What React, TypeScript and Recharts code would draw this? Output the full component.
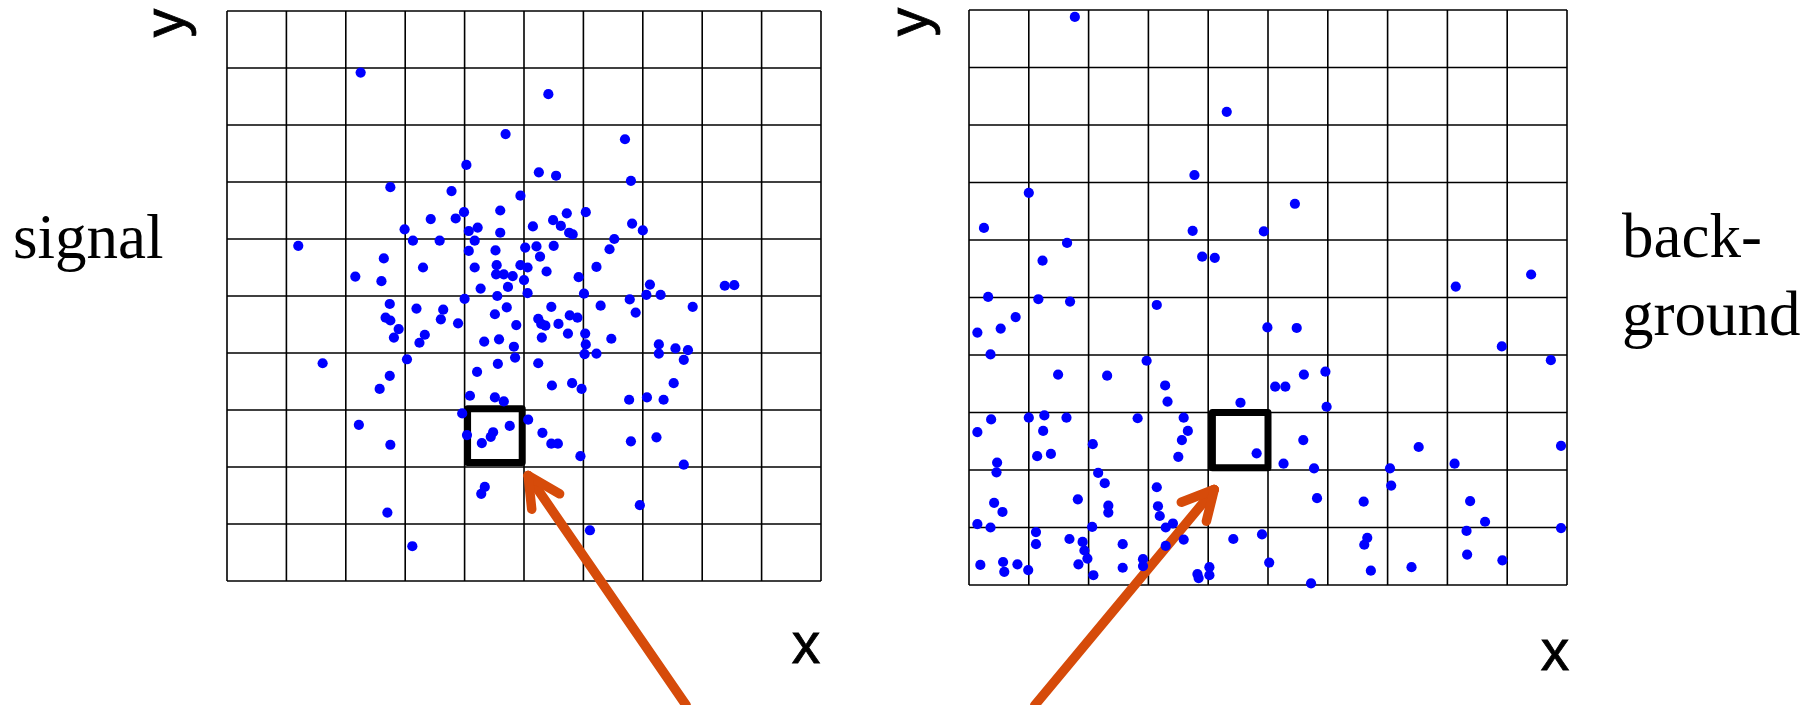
import React from "react";
import {
  CartesianGrid,
  ReferenceArea,
  ReferenceLine,
  Scatter,
  ScatterChart,
  XAxis,
  YAxis,
} from "recharts";

type Pt = [number, number];

// grid is 10 x 10 cells, one unit per cell
const gridTicks = [0, 1, 2, 3, 4, 5, 6, 7, 8, 9, 10];

const signalPoints: Pt[] = [
  [2.25, 8.92], [4.69, 7.84], [4.03, 7.3], [2.75, 6.91], [3.78, 6.84], [4.94, 6.76],
  [3.99, 6.47], [4.6, 6.5], [3.43, 6.35], [3.85, 6.36], [2.99, 6.17], [4.07, 6.14],
  [4.22, 6.2], [4.6, 6.11], [5.15, 6.22], [3.13, 5.97], [3.58, 5.97], [4.17, 5.97],
  [1.2, 5.88], [4.07, 5.79], [4.52, 5.8], [5.02, 5.85], [2.64, 5.66], [3.3, 5.5],
  [4.17, 5.5], [4.54, 5.54], [4.94, 5.54], [2.16, 5.34], [2.6, 5.26], [4.53, 5.38],
  [4.66, 5.38], [4.81, 5.35], [5.0, 5.28], [4.73, 5.16], [4.27, 5.13], [4.55, 5.0],
  [5.06, 5.05], [4.0, 4.95], [2.74, 4.86],
  [3.19, 4.78], [3.64, 4.76], [4.71, 4.8], [4.51, 4.68], [2.67, 4.62], [2.75, 4.57],
  [3.6, 4.59], [3.89, 4.52], [4.87, 4.49], [2.89, 4.42], [2.81, 4.27], [3.33, 4.32],
  [3.24, 4.18], [4.33, 4.2], [4.58, 4.24], [4.83, 4.11], [4.85, 3.92], [3.03, 3.89],
  [1.61, 3.82], [4.56, 3.81], [4.21, 3.67], [2.74, 3.6], [2.57, 3.37], [4.09, 3.25],
  [4.51, 3.22], [4.66, 3.15], [3.96, 2.94], [5.07, 2.83], [2.22, 2.74], [4.04, 2.56],
  [4.76, 2.72], [4.48, 2.61], [4.44, 2.53], [4.29, 2.42], [2.75, 2.39], [4.34, 1.65],
  [4.28, 1.53], [2.7, 1.2], [3.12, 0.61],
  [5.41, 8.54], [6.7, 7.75], [5.25, 7.17], [5.54, 7.11], [6.8, 7.02], [5.72, 6.45],
  [6.04, 6.47], [5.49, 6.33], [5.62, 6.23], [6.82, 6.27], [7.0, 6.15], [5.76, 6.11],
  [5.82, 6.08], [6.52, 6.0], [5.21, 5.87], [5.5, 5.88], [6.44, 5.82], [5.27, 5.69],
  [5.06, 5.5], [5.38, 5.43], [6.22, 5.51], [5.92, 5.33], [7.12, 5.2], [8.38, 5.18],
  [8.54, 5.19], [6.01, 5.04], [7.06, 5.02], [7.3, 5.02], [6.78, 4.94],
  [5.46, 4.81], [6.29, 4.83], [6.88, 4.71], [7.84, 4.81], [5.24, 4.6], [5.29, 4.51],
  [5.36, 4.48], [5.58, 4.51], [5.77, 4.66], [5.9, 4.62], [5.3, 4.27], [5.74, 4.34],
  [6.03, 4.34], [6.47, 4.25], [6.04, 4.15], [7.27, 4.15], [7.55, 4.08], [7.76, 4.05],
  [7.27, 3.99], [6.02, 3.98], [6.22, 3.99], [7.69, 3.88], [5.24, 3.82], [5.47, 3.43],
  [5.81, 3.47], [5.97, 3.37], [7.52, 3.47], [6.77, 3.18], [7.07, 3.22], [7.35, 3.18],
  [5.31, 2.6], [5.46, 2.41], [5.57, 2.41], [5.95, 2.19], [6.8, 2.45], [7.23, 2.52],
  [7.69, 2.04], [6.95, 1.33], [6.11, 0.89],
];

const backgroundPoints: Pt[] = [
  [1.77, 9.88], [4.31, 8.23], [3.77, 7.13], [1.0, 6.82], [0.25, 6.21], [3.74, 6.16],
  [4.93, 6.15], [1.64, 5.95], [1.23, 5.64], [3.9, 5.71], [4.11, 5.69], [0.32, 5.01],
  [1.16, 4.97], [1.69, 4.93], [3.14, 4.87],
  [5.45, 6.63], [8.14, 5.19], [9.4, 5.4],
  [0.78, 4.66], [0.53, 4.46], [0.14, 4.39], [4.99, 4.48], [0.36, 4.01], [2.97, 3.9],
  [1.49, 3.66], [2.31, 3.64], [3.28, 3.47], [3.32, 3.19], [4.54, 3.17], [0.37, 2.88],
  [1.0, 2.91], [1.26, 2.95], [1.63, 2.91], [2.82, 2.9], [3.59, 2.91], [0.14, 2.66],
  [1.24, 2.68], [3.66, 2.68], [3.56, 2.52], [2.07, 2.45], [1.14, 2.24], [1.37, 2.28],
  [3.5, 2.23], [4.81, 2.29], [0.47, 2.13], [0.46, 1.96], [2.16, 1.95], [2.27, 1.77],
  [3.14, 1.7], [0.42, 1.43], [0.56, 1.27], [1.82, 1.49], [2.33, 1.38], [2.33, 1.26],
  [3.16, 1.37], [3.19, 1.2], [0.14, 1.06], [0.36, 1.0], [2.06, 1.01], [1.12, 0.92],
  [1.12, 0.71], [1.68, 0.8], [1.9, 0.75], [3.29, 1.0], [3.41, 1.07], [3.59, 0.79],
  [2.57, 0.71], [3.29, 0.68], [4.42, 0.8], [4.9, 0.88], [1.93, 0.6], [1.98, 0.46],
  [0.19, 0.35], [0.57, 0.4], [0.59, 0.23], [0.81, 0.36], [0.99, 0.26], [1.83, 0.36],
  [2.91, 0.45], [2.91, 0.33], [2.57, 0.3], [2.08, 0.17], [3.82, 0.19], [3.84, 0.12],
  [4.02, 0.31], [4.02, 0.17], [5.02, 0.39],
  [5.48, 4.47], [8.91, 4.15], [9.73, 3.91], [5.6, 3.66], [5.96, 3.71], [5.12, 3.45],
  [5.29, 3.45], [5.98, 3.1], [5.59, 2.52], [7.52, 2.4], [9.9, 2.42], [5.26, 2.11],
  [5.77, 2.03], [7.04, 2.03], [8.12, 2.11], [7.06, 1.73], [5.82, 1.51], [6.6, 1.45],
  [8.38, 1.46], [8.63, 1.1], [8.32, 0.94], [9.9, 0.99], [6.66, 0.82], [6.61, 0.7],
  [8.33, 0.53], [8.92, 0.43], [7.4, 0.31], [6.72, 0.25], [5.72, 0.03],
];

// highlighted cell [x1, x2, y1, y2]
const signalBox = [4.05, 4.97, 2.08, 3.02];
const backgroundBox = [4.07, 5.0, 2.04, 3.0];

// arrow: tail, tip, barb 1, barb 2 (grid units, tail runs off the bottom)
const signalArrow: Pt[] = [[7.73, -2.18], [5.07, 1.85], [5.6, 1.53], [5.13, 1.26]];
const backgroundArrow: Pt[] = [[1.1, -2.09], [4.1, 1.66], [3.55, 1.44], [3.97, 1.11]];

const ARROW = "#d64b0a";

const Dot = (props: any) => <circle cx={props.cx} cy={props.cy} r={5.1} fill="#0000ff" />;

function seg(a: Pt, b: Pt) {
  return [
    { x: a[0], y: a[1] },
    { x: b[0], y: b[1] },
  ];
}

function Panel({
  points,
  box,
  arrow,
  width,
  height,
  margin,
}: {
  points: Pt[];
  box: number[];
  arrow: Pt[];
  width: number;
  height: number;
  margin: { top: number; right: number; bottom: number; left: number };
}) {
  const data = points.map(([x, y]) => ({ x, y }));
  const [tail, tip, b1, b2] = arrow;
  return (
    <ScatterChart width={width} height={height} margin={margin}>
      <CartesianGrid stroke="#000" strokeWidth={1.6} />
      <XAxis type="number" dataKey="x" domain={[0, 10]} ticks={gridTicks} hide />
      <YAxis type="number" dataKey="y" domain={[0, 10]} ticks={gridTicks} hide />
      <Scatter data={data} shape={Dot} isAnimationActive={false} />
      <ReferenceArea
        x1={box[0]}
        x2={box[1]}
        y1={box[2]}
        y2={box[3]}
        fill="none"
        stroke="#000"
        strokeWidth={7}
        strokeLinejoin="round"
        ifOverflow="visible"
      />
      {[seg(tail, tip), seg(tip, b1), seg(tip, b2)].map((s, i) => (
        <ReferenceLine
          key={i}
          segment={s}
          stroke={ARROW}
          strokeWidth={9.5}
          strokeLinecap="round"
          ifOverflow="visible"
        />
      ))}
    </ScatterChart>
  );
}

const sans = '"Liberation Sans", Arial, sans-serif';
const serif = '"Liberation Serif", "Times New Roman", serif';

const axisLetter: React.CSSProperties = {
  position: "absolute",
  fontFamily: sans,
  fontSize: 57,
  lineHeight: "56px",
  width: 60,
  textAlign: "center",
  color: "#000",
  WebkitTextStroke: "0.8px #000",
};

export default function App() {
  return (
    <div
      style={{
        position: "absolute",
        left: 0,
        top: 0,
        width: 1814,
        height: 705,
        background: "#fff",
        overflow: "hidden",
      }}
    >
      <div style={{ position: "absolute", left: 0, top: 0 }}>
        <Panel
          points={signalPoints}
          box={signalBox}
          arrow={signalArrow}
          width={900}
          height={705}
          margin={{ top: 11, right: 79, bottom: 124, left: 227 }}
        />
      </div>
      <div style={{ position: "absolute", left: 900, top: 0 }}>
        <Panel
          points={backgroundPoints}
          box={backgroundBox}
          arrow={backgroundArrow}
          width={914}
          height={705}
          margin={{ top: 10, right: 247, bottom: 120, left: 69 }}
        />
      </div>

      <div style={{ ...axisLetter, left: 134, top: -5, transform: "rotate(-90deg)" }}>y</div>
      <div style={{ ...axisLetter, left: 878, top: -6, transform: "rotate(-90deg)" }}>y</div>
      <div style={{ ...axisLetter, left: 776, top: 615 }}>x</div>
      <div style={{ ...axisLetter, left: 1525, top: 622 }}>x</div>

      <div
        style={{
          position: "absolute",
          left: 13,
          top: 206,
          fontFamily: serif,
          fontSize: 63,
          lineHeight: "63px",
          color: "#000",
        }}
      >
        signal
      </div>
      <div
        style={{
          position: "absolute",
          left: 1622,
          top: 197,
          fontFamily: serif,
          fontSize: 63,
          lineHeight: "78px",
          color: "#000",
        }}
      >
        back-
        <br />
        ground
      </div>
    </div>
  );
}
